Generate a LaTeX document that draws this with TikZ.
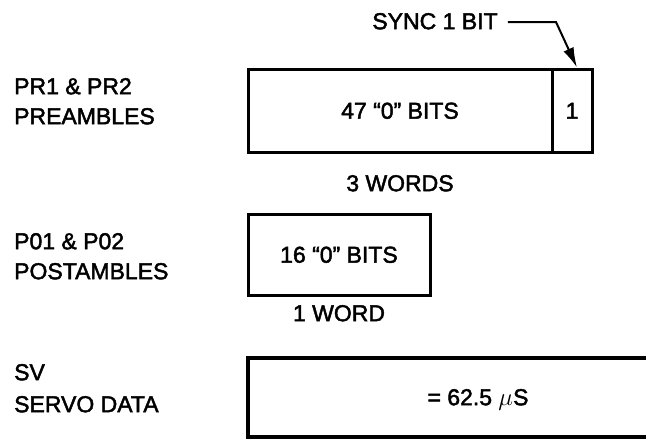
\documentclass[tikz,border=0pt]{standalone}
\usepackage{fontspec}
\setmainfont{Liberation Sans}[FakeBold=2]
\usetikzlibrary{arrows.meta}
\begin{document}
\begin{tikzpicture}[x=1pt,y=-1pt,
  txt/.style={font=\fontsize{23}{27}\selectfont, inner sep=0pt, text height=16.4pt, text depth=0pt},
  lbl/.style={txt, anchor=west},
  cell/.style={draw, line width=3pt, inner sep=0pt, txt},
  leader/.style={line width=2pt, -{Latex[length=20pt,width=11pt]}}
]
\useasboundingbox (0,0) rectangle (646,439);
% left labels
\node[lbl] (l1a) at (14,86) {PR1 \& PR2};
\node[lbl] (l1b) at (14,116) {PREAMBLES};
\node[lbl] (l2a) at (14,241) {P01 \& P02};
\node[lbl] (l2b) at (14,271) {POSTAMBLES};
\node[lbl] (l3a) at (14,372) {SV};
\node[lbl] (l3b) at (14,404) {SERVO DATA};
% preamble
\node[cell, minimum width=304pt, minimum height=83pt] (pre) at (400,110.5) {47 “0” BITS};
\node[cell, minimum width=40pt, minimum height=83pt] (one) at (572,110.5) {1};
\node[txt] (w3) at (400,183) {3 WORDS};
\node[txt] (sync) at (435,21) {SYNC 1 BIT};
\coordinate (bend) at (556,22);
\draw[leader] (sync.east) ++(10,1) -- (bend) -- ([xshift=5pt]one.north);
% postamble
\node[cell, minimum width=182pt, minimum height=81pt] (post) at (339,254.5) {16 “0” BITS};
\node[txt] (w1) at (339,313) {1 WORD};
% servo
\node[txt] (sv) at (478,397) {= 62.5 $\mu$S};
\draw[line width=3.5pt] (646,358) -- (248,358) -- (248,437) -- (646,437);
\end{tikzpicture}
\end{document}
